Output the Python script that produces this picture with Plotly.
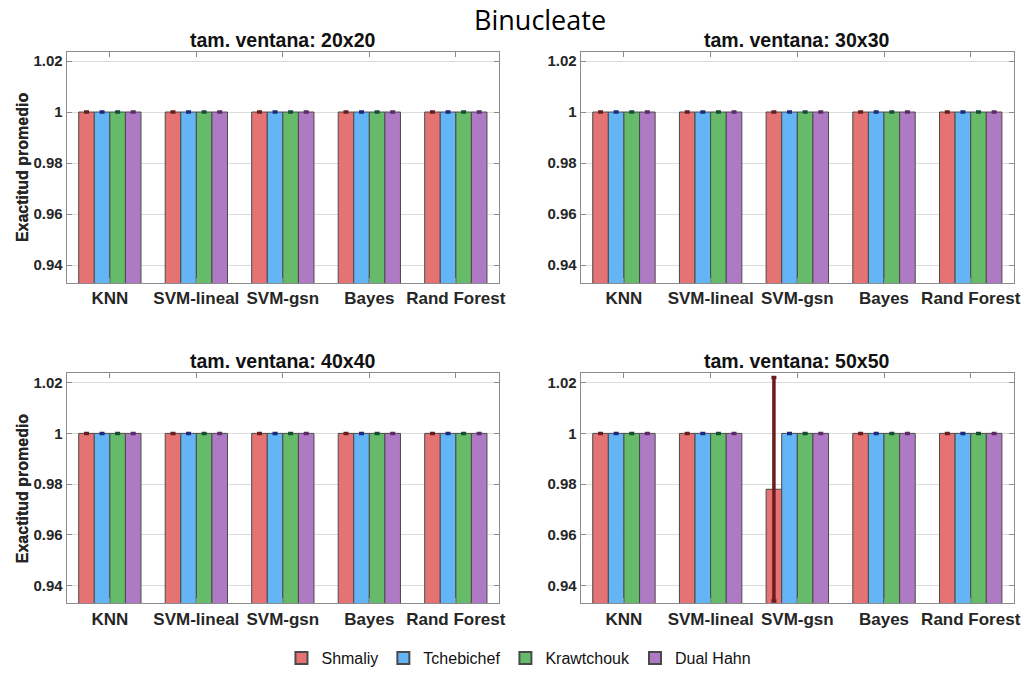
import plotly.graph_objects as go

categories = ["KNN", "SVM-lineal", "SVM-gsn", "Bayes", "Rand Forest"]
series_names = ["Shmaliy", "Tchebichef", "Krawtchouk", "Dual Hahn"]
windows = ["20x20", "30x30", "40x40", "50x50"]

# mean accuracy per window: one list per series (Shmaliy, Tchebichef, Krawtchouk, Dual Hahn)
acc_20 = [[1, 1, 1, 1, 1], [1, 1, 1, 1, 1], [1, 1, 1, 1, 1], [1, 1, 1, 1, 1]]
acc_30 = [[1, 1, 1, 1, 1], [1, 1, 1, 1, 1], [1, 1, 1, 1, 1], [1, 1, 1, 1, 1]]
acc_40 = [[1, 1, 1, 1, 1], [1, 1, 1, 1, 1], [1, 1, 1, 1, 1], [1, 1, 1, 1, 1]]
acc_50 = [[1, 1, 0.978, 1, 1], [1, 1, 1, 1, 1], [1, 1, 1, 1, 1], [1, 1, 1, 1, 1]]

# standard deviations
std_20 = [[0, 0, 0, 0, 0], [0, 0, 0, 0, 0], [0, 0, 0, 0, 0], [0, 0, 0, 0, 0]]
std_30 = [[0, 0, 0, 0, 0], [0, 0, 0, 0, 0], [0, 0, 0, 0, 0], [0, 0, 0, 0, 0]]
std_40 = [[0, 0, 0, 0, 0], [0, 0, 0, 0, 0], [0, 0, 0, 0, 0], [0, 0, 0, 0, 0]]
std_50 = [[0, 0, 0.044, 0, 0], [0, 0, 0, 0, 0], [0, 0, 0, 0, 0], [0, 0, 0, 0, 0]]

y_tickvals = [0.94, 0.96, 0.98, 1.0, 1.02]
y_ticktext = ["0.94", "0.96", "0.98", "1", "1.02"]

bar_colors = ["#E57373", "#64B5F6", "#66BB6A", "#AE7AC4"]
err_colors = ["#6B1C1C", "#1A2A80", "#114F2F", "#5A2A6A"]

accs = [acc_20, acc_30, acc_40, acc_50]
stds = [std_20, std_30, std_40, std_50]

W, H = 1029, 675
# panel pixel boxes in the window (left, right, top, bottom)
boxes = [(67, 502, 52, 285), (584, 1020, 52, 285),
         (67, 502, 376, 608), (584, 1020, 376, 608)]


def px(v):
    return v / W


def py(v):
    return 1 - v / H


fig = go.Figure()
FONT = "Liberation Sans, Arial, sans-serif"

for p in range(4):
    ax = "" if p == 0 else str(p + 1)
    for s in range(4):
        fig.add_trace(go.Bar(
            x=categories, y=accs[p][s], name=series_names[s],
            marker=dict(color=bar_colors[s], line=dict(color="#4A4A4A", width=1)),
            error_y=dict(type="data", array=stds[p][s], visible=True,
                         color=err_colors[s], thickness=3.5, width=2.5),
            xaxis="x" + ax, yaxis="y" + ax,
            showlegend=(p == 0), legendgroup=series_names[s],
        ))
    l, r, t, b = boxes[p]
    xa = dict(domain=[px(l), px(r)], anchor="y" + ax, range=[-0.5, 4.5],
              showline=True, mirror="ticks", linecolor="#8C8C8C", linewidth=1,
              ticks="inside", ticklen=5, tickcolor="#8C8C8C",
              tickfont=dict(family=FONT, size=17, color="#262626", weight="bold"),
              showgrid=False, zeroline=False, fixedrange=True)
    ya = dict(domain=[py(b), py(t)], anchor="x" + ax, range=[0.933, 1.0237],
              tickvals=y_tickvals, ticktext=y_ticktext,
              showline=True, mirror="ticks", linecolor="#8C8C8C", linewidth=1,
              ticks="inside", ticklen=5, tickcolor="#8C8C8C",
              tickfont=dict(family=FONT, size=15, color="#262626", weight="bold"),
              showgrid=True, gridcolor="#DCDCDC", gridwidth=1, zeroline=False)
    fig.update_layout(**{"xaxis" + ax: xa, "yaxis" + ax: ya})
    fig.add_annotation(x=px((l + r) / 2), y=py(t - 12), xref="paper", yref="paper",
                       text="<b>tam. ventana: " + windows[p] + "</b>", showarrow=False,
                       font=dict(family=FONT, size=19.5, color="#111111"),
                       xanchor="center", yanchor="middle")
    fig.add_annotation(x=px(22), y=py((t + b) / 2), xref="paper", yref="paper",
                       text="<b>Exactitud promedio</b>", showarrow=False, textangle=-90,
                       font=dict(family=FONT, size=16, color="#262626"),
                       xanchor="center", yanchor="middle")

fig.add_annotation(x=px(543), y=py(20), xref="paper", yref="paper",
                   text="Binucleate", showarrow=False,
                   font=dict(family="Open Sans, sans-serif", size=27, color="#000000"),
                   xanchor="center", yanchor="middle")

fig.update_layout(
    width=W, height=H, barmode="group", bargap=0.28, bargroupgap=0,
    margin=dict(l=0, r=0, t=0, b=0),
    paper_bgcolor="white", plot_bgcolor="white",
    legend=dict(orientation="h", x=px(522), xanchor="center", y=py(663), yanchor="middle",
                font=dict(family=FONT, size=16, color="#111111"),
                itemsizing="constant", traceorder="normal", bgcolor="rgba(0,0,0,0)"),
)

fig.write_html("out.html", config={"displayModeBar": False},
               post_script="document.body.style.margin='0';document.body.style.overflow='hidden';")
